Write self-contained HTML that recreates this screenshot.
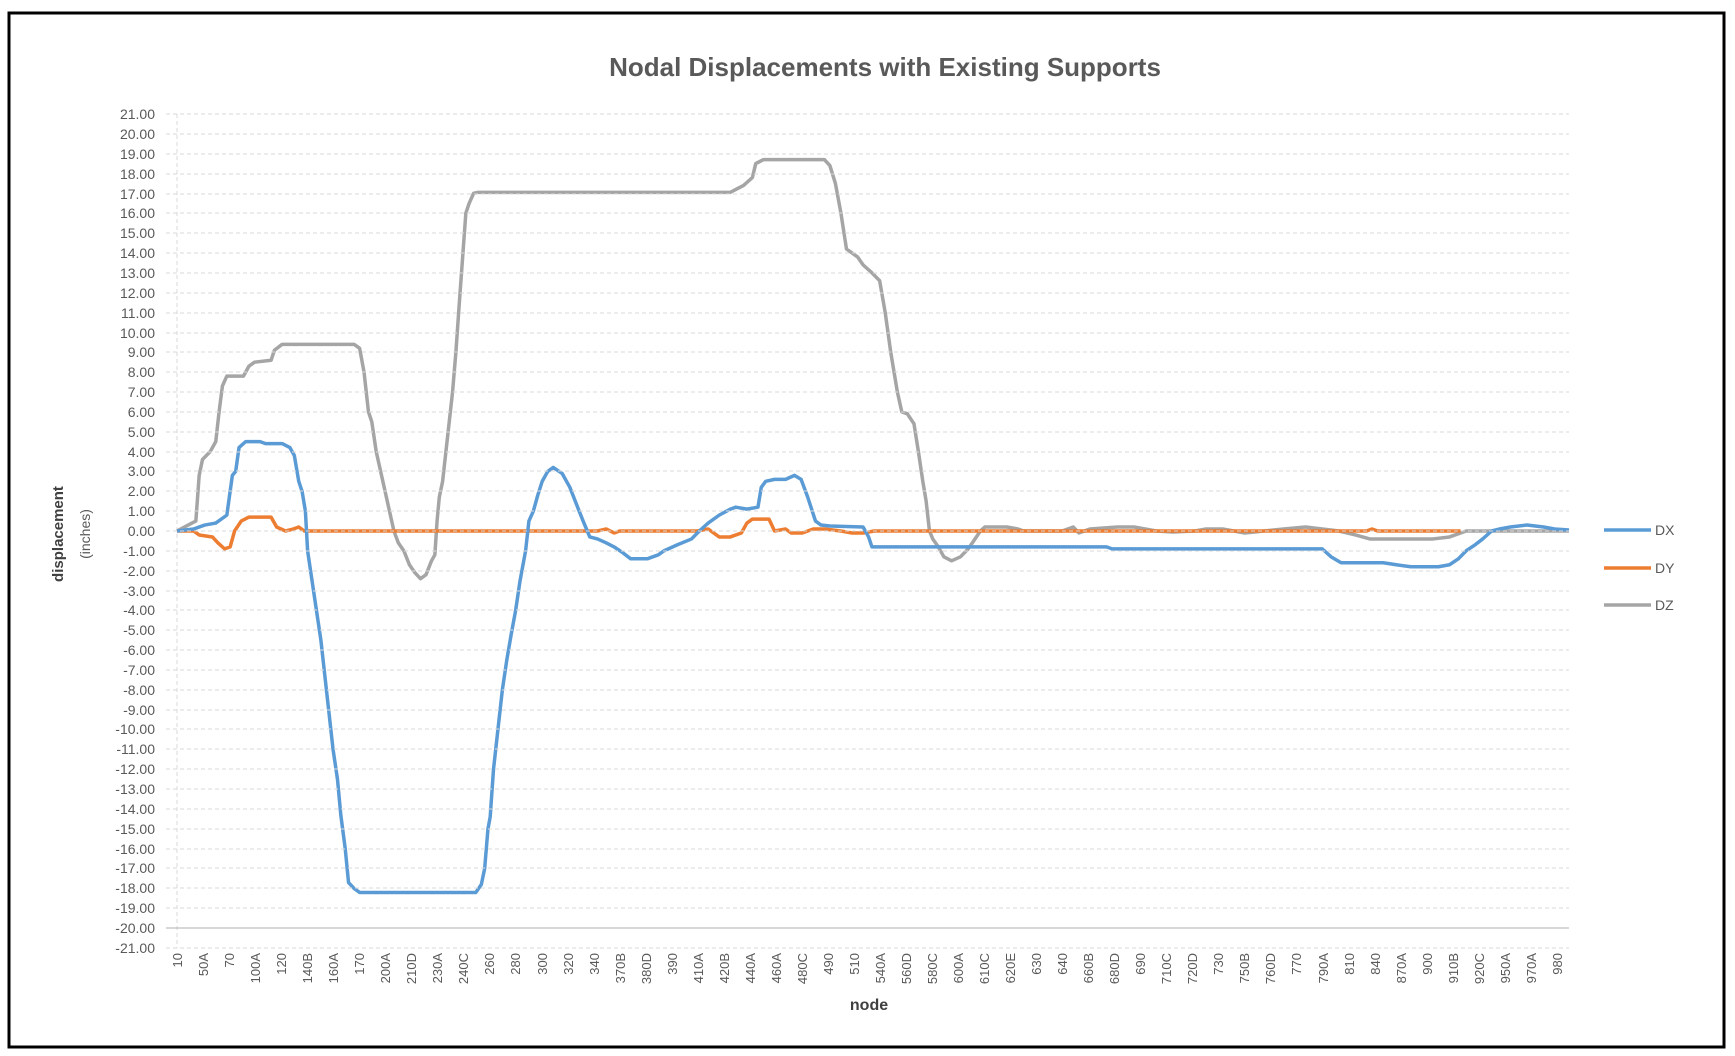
<!DOCTYPE html>
<html><head><meta charset="utf-8"><style>
html,body{margin:0;padding:0;background:#fff;}
svg{display:block;font-family:"Liberation Sans",sans-serif;}
</style></head><body>
<svg width="1735" height="1056" viewBox="0 0 1735 1056" xmlns="http://www.w3.org/2000/svg">
<rect x="0" y="0" width="1735" height="1056" fill="#fff"/>
<rect x="9" y="13" width="1715" height="1034" fill="none" stroke="#000" stroke-width="3"/>
<text x="885" y="76" text-anchor="middle" font-size="26" font-weight="bold" fill="#595959">Nodal Displacements with Existing Supports</text>
<g id="grid" stroke="#d9d9d9" stroke-width="1" stroke-dasharray="4,3"></g>
<g id="ylab" font-size="14" fill="#595959" text-anchor="end"></g>
<line x1="177" y1="114" x2="177" y2="948" stroke="#d9d9d9" stroke-dasharray="4,3"/>
<line x1="166" y1="928" x2="1569" y2="928" stroke="#bfbfbf" stroke-width="1.3"/>
<g id="xlab" font-size="13" fill="#595959"></g>
<text x="869" y="1010" text-anchor="middle" font-size="16" font-weight="bold" fill="#404040">node</text>
<text transform="translate(63,534) rotate(-90)" text-anchor="middle" font-size="15" font-weight="bold" fill="#404040">displacement</text>
<text transform="translate(90,534) rotate(-90)" text-anchor="middle" font-size="14" fill="#595959">(inches)</text>
<g transform="matrix(1.1065 0 0 -19.86 0 531)" fill="none" stroke-width="3.5" stroke-linejoin="round">
<polyline vector-effect="non-scaling-stroke" stroke="#a5a5a5" points="160,0 170,0.3 177,0.5 180,2.8 183,3.6 190,4 195,4.5 198,6 201,7.3 205,7.8 220,7.8 225,8.3 230,8.5 245,8.6 248,9.1 255,9.4 320,9.4 325,9.2 329,8 333,6 336,5.5 340,4 344,3 348,2 352,1 356,0 360,-0.6 365,-1 370,-1.7 375,-2.1 380,-2.4 385,-2.2 390,-1.5 393,-1.2 395,0.5 397,1.7 400,2.5 403,4 406,5.5 409,7 412,9 415,11.4 418,13.7 421,16 424,16.5 428,17 432,17.05 660,17.05 665,17.2 672,17.4 680,17.8 683,18.5 690,18.7 745,18.7 750,18.4 755,17.5 760,16 765,14.2 770,14 775,13.8 780,13.4 788,13 795,12.6 800,11 805,9 808,8 811,7 815,6 820,5.9 826,5.4 830,4 834,2.5 837,1.5 840,0 843,-0.4 848,-0.8 853,-1.3 860,-1.5 868,-1.3 875,-0.9 880,-0.5 886,0 890,0.2 910,0.2 920,0.1 925,0 960,0 970,0.2 975,-0.1 985,0.1 1010,0.2 1025,0.2 1035,0.1 1045,0 1060,-0.05 1080,0 1090,0.1 1105,0.1 1115,0 1125,-0.1 1160,0.1 1180,0.2 1195,0.1 1210,0 1225,-0.2 1238,-0.4 1295,-0.4 1310,-0.3 1320,-0.1 1325,0 1418,0"/>
<polyline vector-effect="non-scaling-stroke" stroke="#ed7d31" points="160,0 175,0 180,-0.2 192,-0.3 197,-0.6 203,-0.9 208,-0.8 212,0 218,0.5 225,0.7 245,0.7 250,0.2 258,0 265,0.1 270,0.2 275,0 540,0 548,0.1 555,-0.1 560,0 630,0 640,0.1 645,-0.1 650,-0.3 660,-0.3 670,-0.1 675,0.4 680,0.6 695,0.6 700,0 710,0.1 715,-0.1 725,-0.1 735,0.1 745,0.1 760,0 770,-0.1 780,-0.1 790,0 1235,0 1240,0.1 1245,0 1320,0"/>
<polyline vector-effect="non-scaling-stroke" stroke="#5b9bd5" points="160,0 175,0.1 185,0.3 195,0.4 205,0.8 210,2.8 213,3 216,4.2 222,4.5 235,4.5 240,4.4 255,4.4 262,4.2 266,3.8 270,2.5 273,2 276,1 278,-1 282,-2.5 286,-4 290,-5.5 293,-7 297,-9 301,-11 305,-12.5 308,-14.3 312,-16 315,-17.7 320,-18 325,-18.2 430,-18.2 435,-17.8 438,-17 441,-15 443,-14.4 446,-12 450,-10 454,-8 458,-6.5 462,-5.2 466,-4 470,-2.5 475,-1 478,0.5 482,1 486,1.8 490,2.5 495,3 500,3.2 508,2.9 515,2.2 522,1.2 527,0.5 533,-0.3 540,-0.4 548,-0.6 555,-0.8 563,-1.1 570,-1.4 585,-1.4 595,-1.2 600,-1 612,-0.7 625,-0.4 632,0 640,0.4 650,0.8 660,1.1 665,1.2 675,1.1 685,1.2 688,2.2 692,2.5 700,2.6 710,2.6 718,2.8 724,2.6 730,1.7 737,0.5 742,0.3 750,0.25 780,0.2 785,-0.3 788,-0.8 1000,-0.8 1005,-0.9 1195,-0.9 1203,-1.3 1212,-1.6 1250,-1.6 1262,-1.7 1275,-1.8 1300,-1.8 1310,-1.7 1318,-1.4 1325,-1 1333,-0.7 1340,-0.4 1348,0 1355,0.1 1365,0.2 1380,0.3 1395,0.2 1405,0.1 1418,0.05"/>
</g>
<g stroke-width="3.5">
<line x1="1604" y1="530" x2="1651" y2="530" stroke="#5b9bd5"/>
<line x1="1604" y1="568" x2="1651" y2="568" stroke="#ed7d31"/>
<line x1="1604" y1="605" x2="1651" y2="605" stroke="#a5a5a5"/>
</g>
<g font-size="14" fill="#595959">
<text x="1655" y="535">DX</text><text x="1655" y="573">DY</text><text x="1655" y="610">DZ</text>
</g>
<g font-size="14" fill="#595959" text-anchor="end">
<text x="155" y="119">21.00</text><text x="155" y="139">20.00</text><text x="155" y="159">19.00</text><text x="155" y="179">18.00</text><text x="155" y="199">17.00</text><text x="155" y="218">16.00</text><text x="155" y="238">15.00</text><text x="155" y="258">14.00</text><text x="155" y="278">13.00</text><text x="155" y="298">12.00</text><text x="155" y="318">11.00</text><text x="155" y="338">10.00</text><text x="155" y="357">9.00</text><text x="155" y="377">8.00</text><text x="155" y="397">7.00</text><text x="155" y="417">6.00</text><text x="155" y="437">5.00</text><text x="155" y="457">4.00</text><text x="155" y="476">3.00</text><text x="155" y="496">2.00</text><text x="155" y="516">1.00</text><text x="155" y="536">0.00</text><text x="155" y="556">-1.00</text><text x="155" y="576">-2.00</text><text x="155" y="596">-3.00</text><text x="155" y="615">-4.00</text><text x="155" y="635">-5.00</text><text x="155" y="655">-6.00</text><text x="155" y="675">-7.00</text><text x="155" y="695">-8.00</text><text x="155" y="715">-9.00</text><text x="155" y="734">-10.00</text><text x="155" y="754">-11.00</text><text x="155" y="774">-12.00</text><text x="155" y="794">-13.00</text><text x="155" y="814">-14.00</text><text x="155" y="834">-15.00</text><text x="155" y="854">-16.00</text><text x="155" y="873">-17.00</text><text x="155" y="893">-18.00</text><text x="155" y="913">-19.00</text><text x="155" y="933">-20.00</text><text x="155" y="953">-21.00</text>
</g>
<g stroke="#d9d9d9" stroke-width="1" stroke-dasharray="4,3">
<path d="M166 114H1569M166 134H1569M166 154H1569M166 174H1569M166 194H1569M166 213H1569M166 233H1569M166 253H1569M166 273H1569M166 293H1569M166 313H1569M166 333H1569M166 352H1569M166 372H1569M166 392H1569M166 412H1569M166 432H1569M166 452H1569M166 471H1569M166 491H1569M166 511H1569M166 531H1569M166 551H1569M166 571H1569M166 591H1569M166 610H1569M166 630H1569M166 650H1569M166 670H1569M166 690H1569M166 710H1569M166 729H1569M166 749H1569M166 769H1569M166 789H1569M166 809H1569M166 829H1569M166 849H1569M166 868H1569M166 888H1569M166 908H1569M166 948H1569"/>
</g>
<g font-size="13" fill="#595959" text-anchor="end">
<text transform="translate(182,953) rotate(-90)">10</text>
<text transform="translate(208,953) rotate(-90)">50A</text>
<text transform="translate(234,953) rotate(-90)">70</text>
<text transform="translate(260,953) rotate(-90)">100A</text>
<text transform="translate(286,953) rotate(-90)">120</text>
<text transform="translate(312,953) rotate(-90)">140B</text>
<text transform="translate(338,953) rotate(-90)">160A</text>
<text transform="translate(364,953) rotate(-90)">170</text>
<text transform="translate(390,953) rotate(-90)">200A</text>
<text transform="translate(416,953) rotate(-90)">210D</text>
<text transform="translate(442,953) rotate(-90)">230A</text>
<text transform="translate(468,953) rotate(-90)">240C</text>
<text transform="translate(494,953) rotate(-90)">260</text>
<text transform="translate(520,953) rotate(-90)">280</text>
<text transform="translate(547,953) rotate(-90)">300</text>
<text transform="translate(573,953) rotate(-90)">320</text>
<text transform="translate(599,953) rotate(-90)">340</text>
<text transform="translate(625,953) rotate(-90)">370B</text>
<text transform="translate(651,953) rotate(-90)">380D</text>
<text transform="translate(677,953) rotate(-90)">390</text>
<text transform="translate(703,953) rotate(-90)">410A</text>
<text transform="translate(729,953) rotate(-90)">420B</text>
<text transform="translate(755,953) rotate(-90)">440A</text>
<text transform="translate(781,953) rotate(-90)">460A</text>
<text transform="translate(807,953) rotate(-90)">480C</text>
<text transform="translate(833,953) rotate(-90)">490</text>
<text transform="translate(859,953) rotate(-90)">510</text>
<text transform="translate(885,953) rotate(-90)">540A</text>
<text transform="translate(911,953) rotate(-90)">560D</text>
<text transform="translate(937,953) rotate(-90)">580C</text>
<text transform="translate(963,953) rotate(-90)">600A</text>
<text transform="translate(989,953) rotate(-90)">610C</text>
<text transform="translate(1015,953) rotate(-90)">620E</text>
<text transform="translate(1041,953) rotate(-90)">630</text>
<text transform="translate(1067,953) rotate(-90)">640</text>
<text transform="translate(1093,953) rotate(-90)">660B</text>
<text transform="translate(1119,953) rotate(-90)">680D</text>
<text transform="translate(1145,953) rotate(-90)">690</text>
<text transform="translate(1171,953) rotate(-90)">710C</text>
<text transform="translate(1197,953) rotate(-90)">720D</text>
<text transform="translate(1223,953) rotate(-90)">730</text>
<text transform="translate(1249,953) rotate(-90)">750B</text>
<text transform="translate(1275,953) rotate(-90)">760D</text>
<text transform="translate(1301,953) rotate(-90)">770</text>
<text transform="translate(1328,953) rotate(-90)">790A</text>
<text transform="translate(1354,953) rotate(-90)">810</text>
<text transform="translate(1380,953) rotate(-90)">840</text>
<text transform="translate(1406,953) rotate(-90)">870A</text>
<text transform="translate(1432,953) rotate(-90)">900</text>
<text transform="translate(1458,953) rotate(-90)">910B</text>
<text transform="translate(1484,953) rotate(-90)">920C</text>
<text transform="translate(1510,953) rotate(-90)">950A</text>
<text transform="translate(1536,953) rotate(-90)">970A</text>
<text transform="translate(1562,953) rotate(-90)">980</text>
</g>
</svg>
</body></html>
